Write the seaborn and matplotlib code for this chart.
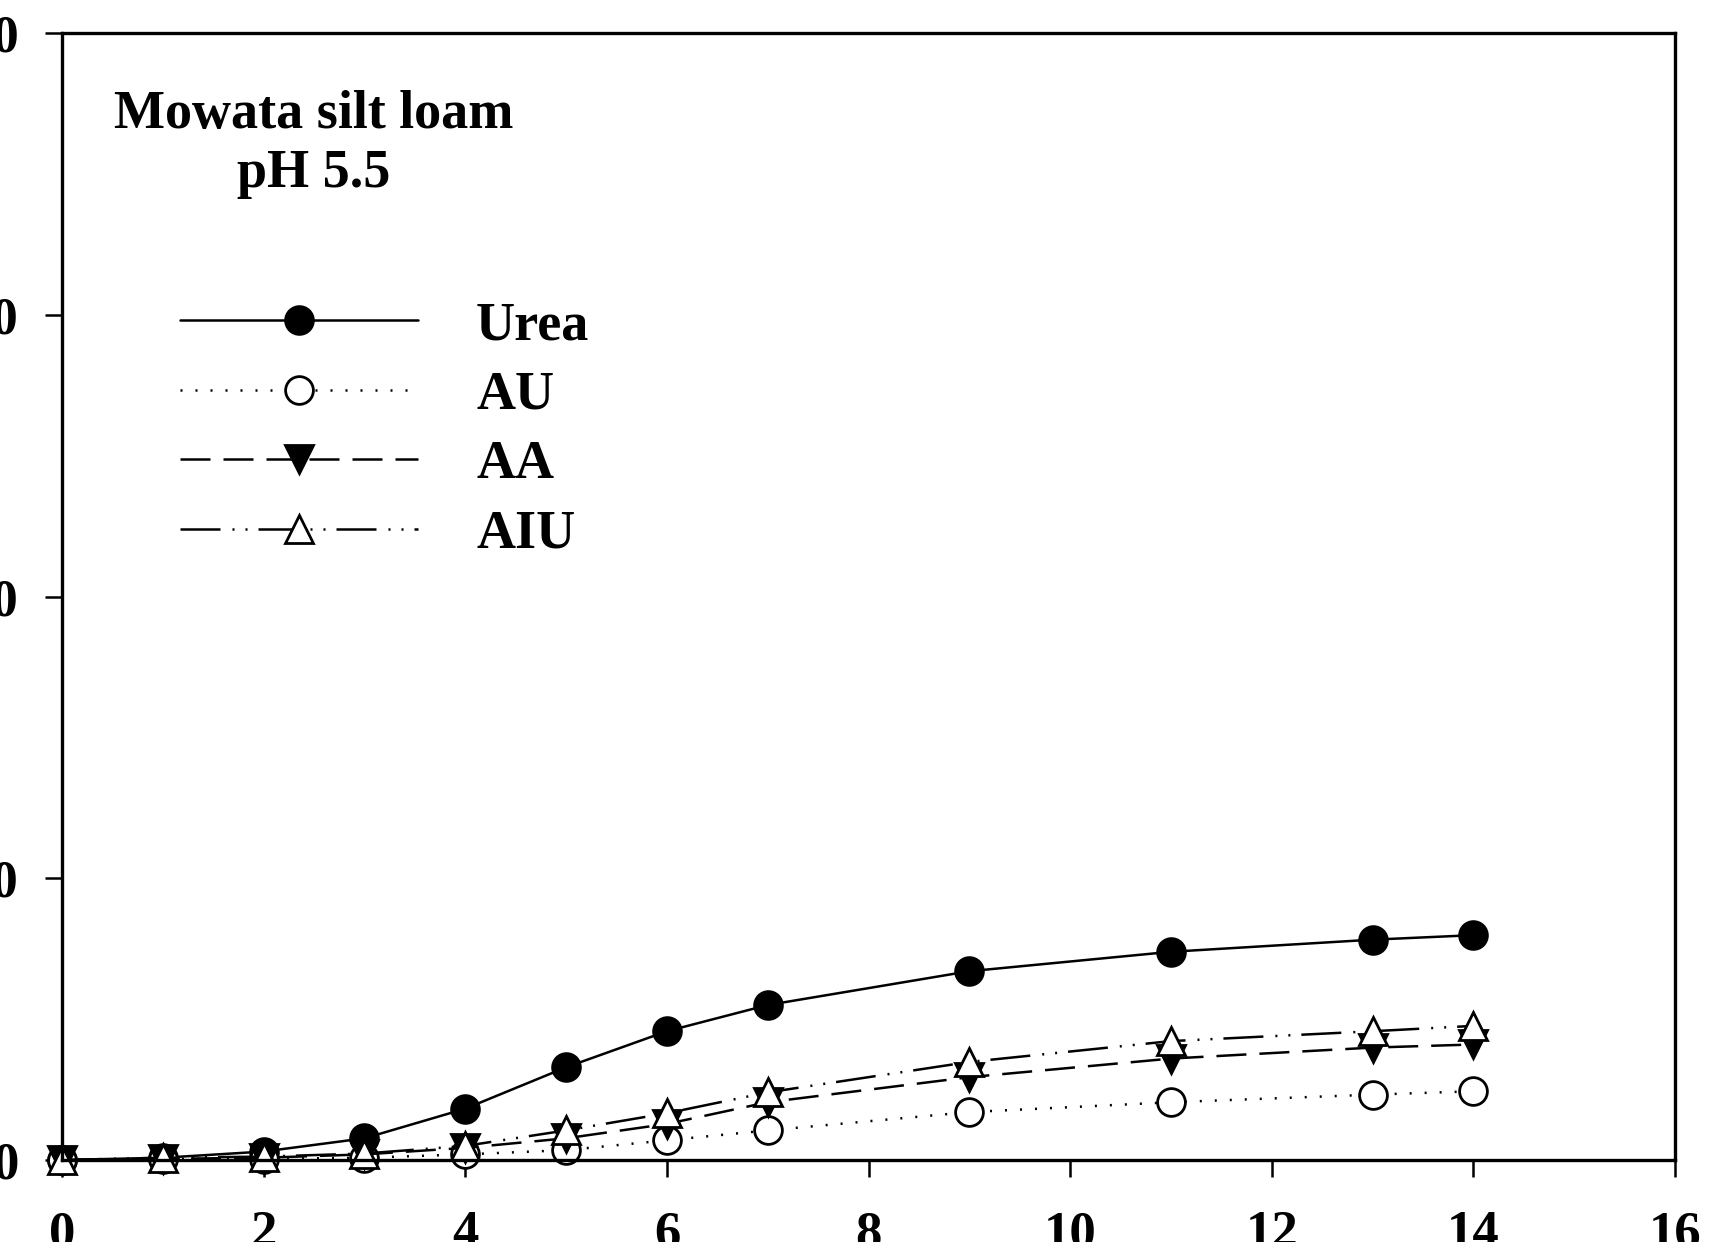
import matplotlib
matplotlib.use("Agg")
import matplotlib.pyplot as plt
import seaborn as sns
import pandas as pd

days = [0, 1, 2, 3, 4, 5, 6, 7, 9, 11, 13, 14]
urea = [0.0, 0.08, 0.3, 0.77, 1.82, 3.29, 4.57, 5.5, 6.7, 7.39, 7.82, 7.98]
au = [0.0, 0.04, 0.04, 0.08, 0.2, 0.35, 0.7, 1.05, 1.7, 2.05, 2.32, 2.44]
aa = [0.0, 0.04, 0.08, 0.2, 0.43, 0.77, 1.28, 2.05, 2.94, 3.6, 3.99, 4.1]
aiu = [0.0, 0.08, 0.12, 0.23, 0.5, 1.05, 1.66, 2.4, 3.48, 4.22, 4.57, 4.76]
series_names = ["Urea", "AU", "AA", "AIU"]
x_ticks = [0, 2, 4, 6, 8, 10, 12, 14, 16]
y_ticks = [0, 10, 20, 30, 40]
title_text = "Mowata silt loam\npH 5.5"

sns.set_theme(style="ticks")
plt.rcParams["font.family"] = ["Liberation Serif", "DejaVu Serif"]
plt.rcParams["font.weight"] = "bold"
plt.rcParams["text.color"] = "black"

fig = plt.figure(figsize=(17.11, 12.42), dpi=100)
ax = fig.add_axes([62 / 1711, 82 / 1242, (1675 - 62) / 1711, (1160 - 33) / 1242])

lw = 1.8
styles = {
    "Urea": dict(linestyle="-", marker="o", markerfacecolor="black"),
    "AU": dict(linestyle=(0, (0.8, 5.2)), marker="o", markerfacecolor="white"),
    "AA": dict(linestyle=(0, (12, 5.2)), marker="v", markerfacecolor="black"),
    "AIU": dict(linestyle=(0, (16, 4.8, 0.8, 4.4, 0.8, 4.4)), marker="^", markerfacecolor="white"),
}
values = {"Urea": urea, "AU": au, "AA": aa, "AIU": aiu}

for name in series_names:
    df = pd.DataFrame({"day": days, "val": values[name]})
    st = styles[name]
    sns.lineplot(data=df, x="day", y="val", ax=ax, color="black", linewidth=lw,
                 linestyle=st["linestyle"], marker=st["marker"],
                 markerfacecolor=st["markerfacecolor"], markeredgecolor="black",
                 markeredgewidth=2.0, markersize=20, clip_on=False, label=name,
                 legend=False)

ax.set_xlim(0, 16)
ax.set_ylim(0, 40)
ax.set_xticks(x_ticks)
ax.set_yticks(y_ticks)
ax.set_xlabel("")
ax.set_ylabel("")
for s in ax.spines.values():
    s.set_linewidth(2.4)
    s.set_color("black")
ax.tick_params(axis="both", direction="out", length=12, width=1.8, labelsize=38,
               colors="black", labelcolor="black")
ax.tick_params(axis="x", pad=24)
ax.tick_params(axis="y", pad=19)
for lab in ax.get_xticklabels() + ax.get_yticklabels():
    lab.set_fontweight("bold")

ax.text(0.156, 0.901, title_text, transform=ax.transAxes, ha="center", va="center",
        fontsize=39, fontweight="bold", linespacing=1.22, color="black")

handles = ax.lines[:4]
leg = ax.legend(handles, series_names, loc="upper left", bbox_to_anchor=(0.073, 0.762),
                frameon=False, fontsize=39, handlelength=4.4, handletextpad=1.07,
                labelspacing=0.36, borderpad=0, borderaxespad=0, numpoints=1)
for t in leg.get_texts():
    t.set_fontweight("bold")
    t.set_color("black")

fig.savefig("out.png", dpi=100)
